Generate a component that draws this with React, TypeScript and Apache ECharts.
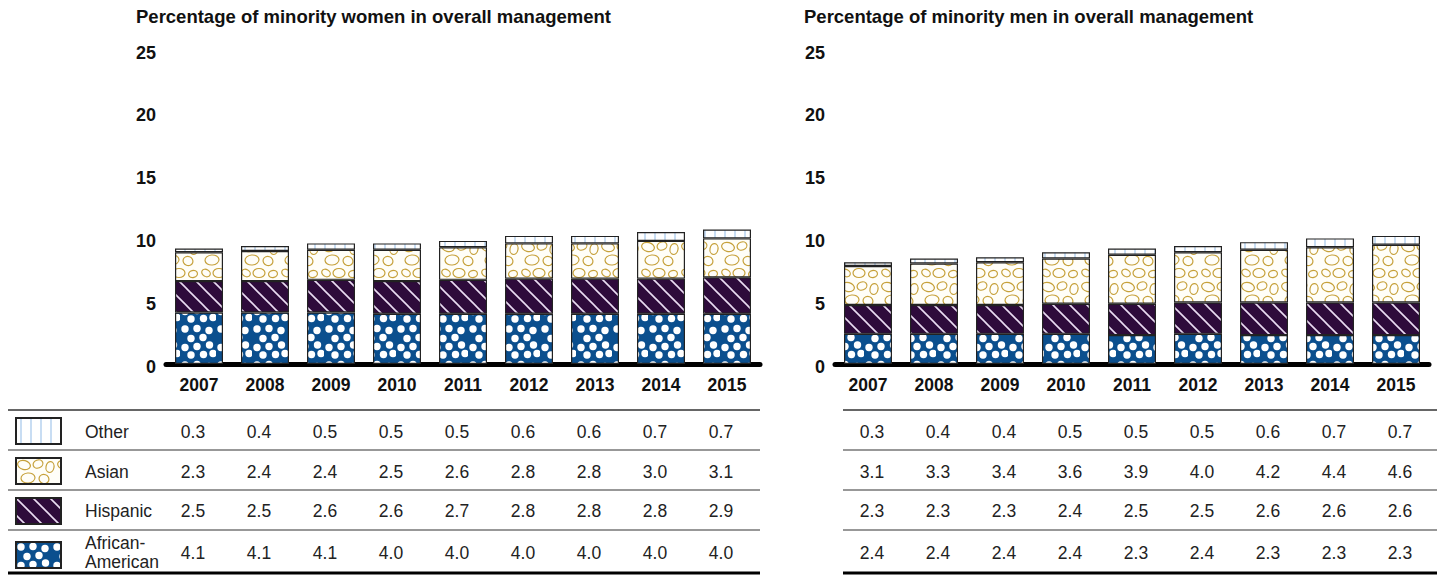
import React, { useEffect, useRef } from "react";
import * as echarts from "echarts";

const years = ["2007", "2008", "2009", "2010", "2011", "2012", "2013", "2014", "2015"];
const rowNames = ["Other", "Asian", "Hispanic", "African-American"];
const rowLabels = ["Other", "Asian", "Hispanic", "African-\nAmerican"];

const womenOther = [0.3, 0.4, 0.5, 0.5, 0.5, 0.6, 0.6, 0.7, 0.7];
const womenAsian = [2.3, 2.4, 2.4, 2.5, 2.6, 2.8, 2.8, 3.0, 3.1];
const womenHispanic = [2.5, 2.5, 2.6, 2.6, 2.7, 2.8, 2.8, 2.8, 2.9];
const womenAfricanAmerican = [4.1, 4.1, 4.1, 4.0, 4.0, 4.0, 4.0, 4.0, 4.0];

const menOther = [0.3, 0.4, 0.4, 0.5, 0.5, 0.5, 0.6, 0.7, 0.7];
const menAsian = [3.1, 3.3, 3.4, 3.6, 3.9, 4.0, 4.2, 4.4, 4.6];
const menHispanic = [2.3, 2.3, 2.3, 2.4, 2.5, 2.5, 2.6, 2.6, 2.6];
const menAfricanAmerican = [2.4, 2.4, 2.4, 2.4, 2.3, 2.4, 2.3, 2.3, 2.3];

const titles = [
  "Percentage of minority women in overall management",
  "Percentage of minority men in overall management",
];

const FONT = "'Liberation Sans', Arial, Helvetica, sans-serif";

function tile(w: number, h: number, body: string) {
  const svg = `<svg xmlns="http://www.w3.org/2000/svg" width="${w}" height="${h}" viewBox="0 0 ${w} ${h}">${body}</svg>`;
  return {
    image: "data:image/svg+xml;charset=utf-8," + encodeURIComponent(svg),
    repeat: "repeat",
    imageWidth: w,
    imageHeight: h,
  };
}

const dots: [number, number][] = [
  [5, 5], [17, 4.5], [29, 6.5], [11, 14.5], [23, 13.5], [5, 23.5], [17, 22.5], [29.5, 21],
  [11, 31], [23.5, 30.5], [33, 29.5],
];
const pebbleShapes: [number, number, number, number, number][] = [
  [8, 7, 6.5, 4.5, 15], [22, 6, 5, 4, -20], [34, 9, 4, 5.5, 10], [12, 20, 7, 5, -5],
  [28, 21, 5, 4.5, 20], [6, 33, 4.5, 3.5, 30], [19, 33, 6, 4.5, 0], [33, 34, 4.5, 3.5, -15],
];

const patterns: Record<string, any> = {
  Other: tile(10, 6, `<rect width="10" height="6" fill="#ffffff"/><line x1="5" y1="0" x2="5" y2="6" stroke="#a4c7ec" stroke-width="1.2"/>`),
  Asian: tile(
    40,
    40,
    `<rect width="40" height="40" fill="#fffef8"/>` +
      pebbleShapes
        .map(([cx, cy, rx, ry, r]) => `<ellipse cx="${cx}" cy="${cy}" rx="${rx}" ry="${ry}" transform="rotate(${r} ${cx} ${cy})" fill="none" stroke="#c6a13a" stroke-width="1.2"/>`)
        .join("")
  ),
  Hispanic: tile(
    17,
    17,
    `<rect width="17" height="17" fill="#2e0b3b"/><path d="M-1 -1L18 18M-2 15L2 19M15 -2L19 2" stroke="#eadcf2" stroke-width="1.6"/>`
  ),
  "African-American": tile(
    36,
    36,
    `<rect width="36" height="36" fill="#0b4f8e"/>` +
      dots.map(([x, y]) => `<circle cx="${x}" cy="${y}" r="3.7" fill="#ffffff"/>`).join("")
  ),
};

const panels = [
  { data: [womenOther, womenAsian, womenHispanic, womenAfricanAmerican], stack: "w", offset: -6, table: [8, 760] },
  { data: [menOther, menAsian, menHispanic, menAfricanAmerican], stack: "m", offset: 4, table: [843, 1437] },
];

export default function App() {
  const ref = useRef<HTMLDivElement>(null);
  useEffect(() => {
    if (!ref.current) return;
    const chart = echarts.init(ref.current, null, { renderer: "svg" });
    const gridLefts = [166, 835];
    const series: any[] = [];
    panels.forEach((p, pi) => {
      [3, 2, 1, 0].forEach((ri) => {
        const name = rowNames[ri];
        series.push({
          type: "bar",
          name,
          xAxisIndex: pi,
          yAxisIndex: pi,
          stack: p.stack,
          barWidth: 48,
          data: p.data[ri],
          itemStyle: {
            color: patterns[name],
            borderColor: "#222",
            borderWidth: 1.2,
          },
          emphasis: { disabled: true },
        });
      });
    });
    const legendTops = [417, 457, 497, 541];
    const option: any = {
      animation: false,
      textStyle: { fontFamily: FONT },
      title: titles.map((t, i) => ({
        text: t,
        left: [136, 804][i],
        top: 7,
        padding: 0,
        textStyle: { fontSize: 18.5, fontWeight: "bold", color: "#111", fontFamily: FONT },
      })),
      grid: gridLefts.map((l) => ({ left: l, width: 594, top: 50, height: 314 })),
      xAxis: gridLefts.map((_, i) => ({
        type: "category",
        gridIndex: i,
        data: years,
        axisLine: { lineStyle: { color: "#000", width: 5 } },
        axisTick: { show: false },
        axisLabel: { fontSize: 17.5, fontWeight: "bold", color: "#111", margin: 12, fontFamily: FONT },
      })),
      yAxis: gridLefts.map((_, i) => ({
        type: "value",
        gridIndex: i,
        min: 0,
        max: 25,
        interval: 5,
        axisLine: { show: false },
        axisTick: { show: false },
        splitLine: { show: false },
        axisLabel: {
          margin: 10,
          formatter: "{v|{value}}",
          rich: {
            v: {
              fontSize: 18,
              fontWeight: "bold",
              color: "#111",
              fontFamily: FONT,
              padding: [5, 0, 0, 0],
            },
          },
        },
      })),
      legend: rowNames.map((n, i) => ({
        data: [n],
        left: 15,
        top: legendTops[i],
        padding: 0,
        icon: "rect",
        itemWidth: 45,
        itemHeight: 26,
        selectedMode: false,
        formatter: () => "",
        textStyle: { fontSize: 1 },
      })),
      series,
    };
    chart.setOption(option);

    const lineYs = [410, 450, 490, 530];
    const textYs = [432, 472, 511, 553];
    const graphic: any[] = [];
    rowLabels.forEach((lab, ri) => {
      graphic.push({
        type: "text",
        x: 85,
        y: ri === 3 ? 552.5 : textYs[ri],
        style: {
          text: lab,
          fontSize: 17.5,
          fontFamily: FONT,
          fill: "#222",
          align: "left",
          verticalAlign: "middle",
          lineHeight: 19.5,
        },
      });
    });
    panels.forEach((p, pi) => {
      lineYs.forEach((y, k) => {
        graphic.push({
          type: "line",
          shape: { x1: p.table[0], y1: y, x2: p.table[1], y2: y },
          style: { stroke: "#333", lineWidth: k === 0 ? 1.6 : 1.2 },
        });
      });
      graphic.push({
        type: "line",
        shape: { x1: p.table[0], y1: 573, x2: p.table[1], y2: 573 },
        style: { stroke: "#000", lineWidth: 3 },
      });
      years.forEach((yr, ci) => {
        const x = chart.convertToPixel({ xAxisIndex: pi } as any, yr) as unknown as number;
        p.data.forEach((arr, ri) => {
          graphic.push({
            type: "text",
            x: x + p.offset,
            y: textYs[ri],
            style: {
              text: arr[ci].toFixed(1),
              fontSize: 17.5,
              fontFamily: FONT,
              fill: "#222",
              align: "center",
              verticalAlign: "middle",
            },
          });
        });
      });
    });
    chart.setOption({ graphic });
    return () => chart.dispose();
  }, []);
  return (
    <div
      ref={ref}
      style={{ position: "absolute", left: 0, top: 0, width: 1442, height: 576, background: "#fff" }}
    />
  );
}
